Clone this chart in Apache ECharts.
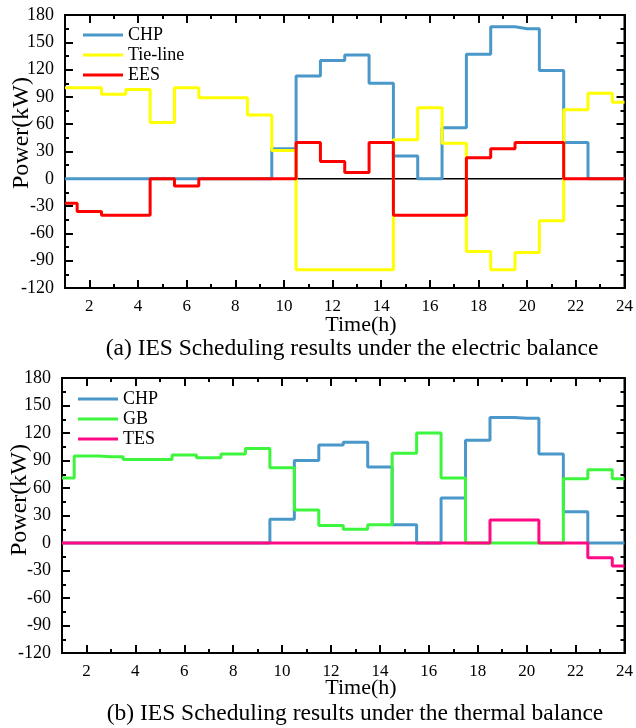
<!DOCTYPE html>
<html>
<head>
<meta charset="utf-8">
<script src="https://cdn.jsdelivr.net/npm/echarts@6/dist/echarts.min.js"></script>
<style>html,body{margin:0;padding:0;background:#fff}#c{width:636px;height:728px}</style>
</head>
<body>
<div id="c"></div>
<script>
const hours = [1,2,3,4,5,6,7,8,9,10,11,12,13,14,15,16,17,18,19,20,21,22,23,24];
const xTickLabels = [2,4,6,8,10,12,14,16,18,20,22,24];
const yTicks = { min: -120, max: 180, step: 30 };

// (a) electric balance
const chpElec = [0,0,0,0,0,0,0,0,0,33,113,130,136,105,25,0,56,137,167,165,119,40,0,0];
const tieLine = [100,100,93,98,62,100,89,89,70,31,-100,-100,-100,-100,43,78,39,-80,-100,-81,-46,76,94,84];
const eesElec = [-27,-36,-40,-40,0,-8,0,0,0,0,40,19,7,40,-40,-40,-40,23,33,40,40,0,0,0];

// (b) thermal balance
const chpHeat = [0,0,0,0,0,0,0,0,0,26,90,107,110,83,20,0,49,112,137,136,97,34,0,0];
const gbHeat  = [71,95,94,91,91,96,93,97,103,82,36,19,15,20,98,120,71,0,0,0,0,70,80,70];
const tesHeat = [0,0,0,0,0,0,0,0,0,0,0,0,0,0,0,0,0,0,25,25,0,0,-16,-25];

const zeroLine = [0,0];
const zeroHours = [1,24];

const captionA = '(a) IES Scheduling results under the electric balance';
const captionB = '(b) IES Scheduling results under the thermal balance';

const FONT = "'Liberation Serif','Times New Roman',serif";
const pair = (xs, ys) => xs.map((x, i) => [x, ys[i]]);

const gridFrame = { show: true, borderColor: '#000', borderWidth: 2, backgroundColor: 'transparent' };
const grids = [
  Object.assign({ left: 65, right: 9, top: 15, height: 273 }, gridFrame),
  Object.assign({ left: 62, right: 9, top: 378, height: 275 }, gridFrame)
];

const TICK = { color: '#000', width: 2 };
const HIDDEN_SPLIT = { show: true, lineStyle: { color: 'rgba(0,0,0,0)', width: 0, opacity: 0 } };

function xAxes(gi) {
  const base = {
    gridIndex: gi, type: 'value', min: 1, max: 24, interval: 1,
    splitLine: HIDDEN_SPLIT,
    axisLine: { show: true, onZero: false, lineStyle: { color: '#000', width: 2 } }
  };
  return [
    Object.assign({}, base, {
      position: 'bottom',
      axisTick: { show: true, inside: true, length: 4, lineStyle: TICK },
      axisLabel: { show: true, color: '#000', fontFamily: FONT, fontSize: 17, margin: 10,
        formatter: v => (xTickLabels.indexOf(v) >= 0 ? String(v) : '') }
    }),
    Object.assign({}, base, {
      position: 'top',
      axisTick: { show: true, inside: true, length: 4, lineStyle: TICK },
      axisLabel: { show: false }
    }),
    Object.assign({}, base, {
      position: 'bottom',
      axisLine: { show: false, onZero: false },
      axisTick: { show: true, inside: true, length: 8, customValues: xTickLabels, lineStyle: TICK },
      axisLabel: { show: false }
    }),
    Object.assign({}, base, {
      position: 'top',
      axisLine: { show: false, onZero: false },
      axisTick: { show: true, inside: true, length: 8, customValues: xTickLabels, lineStyle: TICK },
      axisLabel: { show: false }
    })
  ];
}

function yAxes(gi) {
  const base = {
    gridIndex: gi, type: 'value', min: yTicks.min, max: yTicks.max, interval: yTicks.step,
    splitLine: HIDDEN_SPLIT,
    axisLine: { show: true, onZero: false, lineStyle: { color: '#000', width: 2 } },
    axisTick: { show: true, inside: true, length: 8, lineStyle: TICK },
    minorTick: { show: true, splitNumber: 2, length: 4, lineStyle: TICK }
  };
  return [
    Object.assign({}, base, { position: 'left',
      axisLabel: { show: true, color: '#000', fontFamily: FONT, fontSize: 18, margin: 11 } }),
    Object.assign({}, base, { position: 'right', axisLabel: { show: false } })
  ];
}

function lineSeries(name, xi, yi, data, color, z) {
  return {
    name, type: 'line', xAxisIndex: xi, yAxisIndex: yi, step: 'middle',
    data: pair(hours, data), showSymbol: false, symbol: 'none', z: z,
    lineStyle: { color, width: 3 }, itemStyle: { color }, animation: false
  };
}

const legendCommon = {
  orient: 'vertical', icon: 'rect', itemWidth: 40, itemHeight: 3, itemGap: 2,
  textStyle: { fontFamily: FONT, fontSize: 18, color: '#000', lineHeight: 18 }
};

const option = {
  animation: false,
  grid: grids,
  xAxis: xAxes(0).concat(xAxes(1)),
  yAxis: yAxes(0).concat(yAxes(1)),
  legend: [
    Object.assign({}, legendCommon, { left: 78, top: 21, data: ['CHP', 'Tie-line', 'EES'] }),
    Object.assign({}, legendCommon, { left: 73, top: 385, data: ['CHP ', 'GB', 'TES'] })
  ],
  series: [
    { name: 'zero', type: 'line', xAxisIndex: 0, yAxisIndex: 0, data: pair(zeroHours, zeroLine),
      showSymbol: false, symbol: 'none', z: 1, lineStyle: { color: '#000', width: 1.5 } },
    lineSeries('CHP', 0, 0, chpElec, '#4A98C9', 2),
    lineSeries('Tie-line', 0, 0, tieLine, '#FFFF00', 3),
    lineSeries('EES', 0, 0, eesElec, '#FF0000', 4),
    lineSeries('CHP ', 4, 2, chpHeat, '#4A98C9', 2),
    lineSeries('GB', 4, 2, gbHeat, '#3DF53D', 3),
    lineSeries('TES', 4, 2, tesHeat, '#FF0A84', 4)
  ],
  graphic: [
    { type: 'text', x: 22, y: 133, rotation: Math.PI / 2,
      style: { text: 'Power(kW)', font: '24px ' + FONT, fill: '#000', textAlign: 'center', textVerticalAlign: 'middle' } },
    { type: 'text', x: 20, y: 500, rotation: Math.PI / 2,
      style: { text: 'Power(kW)', font: '24px ' + FONT, fill: '#000', textAlign: 'center', textVerticalAlign: 'middle' } },
    { type: 'text', x: 361, y: 325,
      style: { text: 'Time(h)', font: '22px ' + FONT, fill: '#000', textAlign: 'center', textVerticalAlign: 'middle' } },
    { type: 'text', x: 361, y: 688,
      style: { text: 'Time(h)', font: '22px ' + FONT, fill: '#000', textAlign: 'center', textVerticalAlign: 'middle' } },
    { type: 'text', x: 352, y: 349,
      style: { text: captionA, font: '23.5px ' + FONT, fill: '#000', textAlign: 'center', textVerticalAlign: 'middle' } },
    { type: 'text', x: 355, y: 714,
      style: { text: captionB, font: '23.5px ' + FONT, fill: '#000', textAlign: 'center', textVerticalAlign: 'middle' } }
  ]
};

const chart = echarts.init(document.getElementById('c'), null, { renderer: 'canvas' });
chart.setOption(option);
</script>
</body>
</html>
